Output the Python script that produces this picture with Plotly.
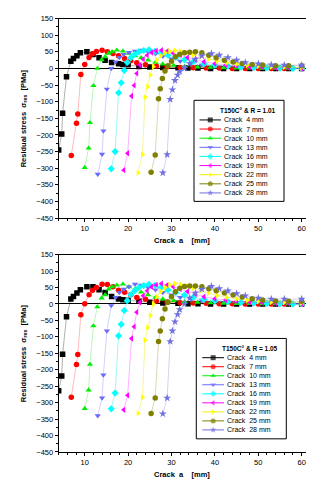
import plotly.graph_objects as go

CRACKS = [4, 7, 10, 13, 16, 19, 22, 25, 28]
LABELS = ["Crack  4 mm", "Crack  7 mm", "Crack  10 mm", "Crack  13 mm", "Crack  16 mm",
          "Crack  19 mm", "Crack  22 mm", "Crack  25 mm", "Crack  28 mm"]
COLORS = ["#000000", "#ff0000", "#00ee00", "#6a6aff", "#00ffff", "#ff00ff", "#ffff00", "#808000", "#7070e0"]
LINECOLORS = ["rgba(0,0,0,0.35)", "rgba(255,0,0,0.3)", "rgba(0,220,0,0.3)", "rgba(106,106,255,0.35)",
              "rgba(0,230,230,0.4)", "rgba(255,0,255,0.35)", "rgba(230,230,0,0.45)", "rgba(128,128,0,0.35)",
              "rgba(112,112,224,0.35)"]
SYMBOLS = ["square", "circle", "triangle-up", "triangle-down", "diamond", "triangle-left",
           "triangle-right", "circle", "star"]
TITLES = ["T150C° & R = 1.01", "T150C° & R = 1.05"]

# x positions (mm) of the points of each crack curve (same mesh in both charts)
X4 = [4.0, 4.7, 4.9, 5.8, 6.8, 7.4, 8.2, 9.0, 10.5, 11.9, 13.3, 14.7, 16.2, 17.8, 18.8, 20.0, 22.5, 25.0,
      28.0, 31.5, 33.8, 36.1, 39.0, 42.0, 45.0, 48.0, 51.0, 54.0, 57.0, 60.0]
X7 = [6.9, 8.1, 8.4, 9.1, 10.0, 11.0, 11.8, 12.7, 14.0, 15.2, 16.5, 17.8, 19.2, 20.6, 22.0, 24.0, 26.5,
      29.0, 32.0, 35.0, 38.0, 41.0, 44.0, 47.0, 50.0, 53.0, 56.0, 60.0]
X10 = [10.0, 10.9, 11.2, 12.0, 12.9, 13.9, 14.7, 15.5, 16.3, 17.4, 18.8, 20.2, 21.6, 23.0, 24.6, 26.3,
       28.0, 30.5, 33.0, 36.0, 39.0, 42.0, 45.0, 48.0, 51.0, 54.0, 57.0, 60.0]
X13 = [13.0, 14.0, 14.3, 15.1, 16.1, 17.1, 18.0, 19.0, 20.2, 21.6, 23.0, 24.6, 26.3, 28.0, 30.0, 32.0,
       34.5, 37.0, 40.0, 43.0, 46.0, 49.0, 52.0, 55.0, 58.0, 60.0]
X16 = [16.1, 17.0, 17.8, 18.4, 19.1, 19.8, 20.6, 21.5, 22.5, 23.6, 24.8, 26.2, 27.6, 29.2, 31.0, 33.0,
       35.0, 37.5, 40.0, 43.0, 46.0, 49.0, 52.0, 55.0, 58.0, 60.0]
X19 = [19.0, 19.9, 20.8, 21.4, 22.0, 22.7, 23.5, 24.4, 25.4, 26.5, 27.7, 29.0, 30.4, 32.0, 33.7, 35.5,
       37.5, 40.0, 42.5, 45.0, 48.0, 51.0, 54.0, 57.0, 60.0]
X22 = [22.3, 23.3, 23.9, 24.5, 25.1, 25.8, 26.6, 27.5, 28.5, 29.6, 30.8, 32.1, 33.5, 35.0, 36.7, 38.5,
       40.5, 42.7, 45.0, 47.5, 50.0, 53.0, 56.0, 60.0]
X25 = [25.3, 26.25, 27.0, 27.4, 27.9, 28.5, 29.2, 30.0, 30.9, 31.9, 33.0, 34.2, 35.5, 37.0, 38.6, 40.3,
       42.2, 44.2, 46.3, 48.6, 51.0, 54.0, 57.0, 60.0]
X28 = [28.0, 29.0, 29.7, 30.2, 30.8, 31.4, 31.9, 33.0, 34.2, 35.5, 37.0, 39.2, 41.0, 43.0, 45.0, 47.0,
       50.0, 53.0, 56.0, 60.0]

# Top chart: R = 1.01 (MPa)
T4 = [-245, -197, -135, -25, 22, 30, 38, 47, 50, 42, 32, 25, 18, 14, 12, 11, 6, 4, 3, 2, 1, 1, 0, 0, 0, 0, 0, 0, 0, 0]
T7 = [-262, -165, -137, -18, 12, 33, 44, 51, 55, 50, 45, 38, 30, 23, 17, 11, 7, 5, 3, 2, 1, 1, 0, 0, 0, 0, 0, 0]
T10 = [-298, -240, -163, -52, 0, 26, 35, 45, 50, 55, 52, 45, 38, 32, 25, 18, 13, 9, 6, 4, 3, 2, 1, 1, 0, 0, 0, 0]
T13 = [-318, -258, -188, -62, 0, 20, 33, 42, 48, 52, 55, 50, 44, 37, 29, 22, 15, 10, 7, 5, 3, 2, 1, 1, 0, 0]
T16 = [-302, -250, -73, -43, -6, 18, 32, 42, 50, 54, 56, 52, 46, 40, 33, 26, 20, 14, 10, 7, 4, 3, 2, 1, 0, 0]
T19 = [-306, -255, -83, -51, -15, 10, 28, 40, 48, 53, 55, 52, 46, 40, 33, 26, 20, 14, 10, 7, 5, 3, 2, 1, 0]
T22 = [-314, -259, -87, -55, -20, 5, 25, 38, 47, 52, 54, 52, 47, 41, 35, 28, 22, 17, 13, 10, 7, 5, 4, 3]
T25 = [-312, -260, -91, -61, -30, -8, 8, 22, 35, 43, 47, 49, 50, 47, 40, 32, 25, 19, 15, 12, 10, 8, 8, 8]
T28 = [-314, -259, -93, -64, -36, -20, -9, 1, 15, 28, 38, 45, 40, 33, 25, 18, 14, 11, 10, 10]

# Bottom chart: R = 1.05 (MPa)
B4 = [-264, -219, -153, -39, 15, 23, 33, 43, 52, 52, 43, 35, 23, 15, 13, 11, 8, 5, 3, 2, 1, 1, 0, 0, 0, 0, 0, 0, 0, 0]
B7 = [-284, -184, -154, -33, 1, 28, 42, 50, 60, 59, 52, 42, 36, 28, 20, 14, 9, 6, 4, 3, 2, 1, 1, 0, 0, 0, 0, 0]
B10 = [-318, -262, -184, -67, -9, 18, 28, 45, 52, 57, 60, 52, 45, 36, 28, 20, 15, 10, 7, 5, 3, 2, 1, 1, 0, 0, 0, 0]
B13 = [-340, -286, -216, -82, -5, 20, 35, 45, 52, 60, 57, 50, 43, 35, 28, 20, 14, 10, 7, 5, 3, 2, 1, 0, 0, 0]
B16 = [-319, -271, -97, -62, -20, 10, 28, 40, 50, 56, 60, 57, 50, 43, 35, 27, 20, 14, 10, 7, 5, 3, 2, 1, 0, 0]
B19 = [-322, -278, -105, -69, -25, 5, 25, 40, 52, 58, 62, 58, 52, 45, 38, 30, 22, 16, 12, 8, 6, 4, 3, 2, 1]
B22 = [-333, -284, -110, -72, -35, 0, 22, 38, 50, 58, 62, 60, 55, 48, 40, 33, 26, 20, 15, 11, 8, 6, 5, 4]
B25 = [-333, -286, -114, -82, -45, -15, 5, 22, 37, 48, 53, 55, 55, 52, 46, 40, 33, 27, 21, 16, 12, 9, 8, 8]
B28 = [-334, -286, -114, -82, -54, -32, -17, 0, 18, 33, 45, 54, 47, 40, 32, 25, 18, 15, 15, 15]

XS = [X4, X7, X10, X13, X16, X19, X22, X25, X28]
YS_TOP = [T4, T7, T10, T13, T16, T19, T22, T25, T28]
YS_BOT = [B4, B7, B10, B13, B16, B19, B22, B25, B28]

W, H = 314, 480
FONT = "Liberation Sans, Arial, sans-serif"

fig = go.Figure()

for ys_set, xa, ya in [(YS_TOP, "x", "y"), (YS_BOT, "x2", "y2")]:
    for i in range(len(CRACKS)):
        fig.add_trace(go.Scatter(
            x=XS[i], y=ys_set[i], mode="lines+markers", xaxis=xa, yaxis=ya,
            line=dict(color=LINECOLORS[i], width=0.9),
            marker=dict(symbol=SYMBOLS[i], color=COLORS[i], size=5.5 if SYMBOLS[i] != "star" else 6,
                        line=dict(width=0)),
            showlegend=False, hoverinfo="skip"))

# plot areas in pixels
plots = [dict(l=50.7, r=298.0, t=6.7, b=210.0), dict(l=50.7, r=298.0, t=247.3, b=448.3)]

def px_dom_x(l, r):
    return [l / W, r / W]

def px_dom_y(t, b):
    return [1 - b / H, 1 - t / H]

axis_common = dict(showline=True, linecolor="black", linewidth=1, mirror=True, showgrid=False,
                   ticks="outside", ticklen=3, tickwidth=1, tickcolor="black",
                   tickfont=dict(family=FONT, size=7.5, color="black"))

layout = dict(width=W, height=H, margin=dict(l=0, r=0, t=0, b=0),
              paper_bgcolor="white", plot_bgcolor="rgba(0,0,0,0)", showlegend=False,
              font=dict(family=FONT, color="black"))

for k, p in enumerate(plots):
    xs = "xaxis" if k == 0 else "xaxis2"
    ys = "yaxis" if k == 0 else "yaxis2"
    anchor_x = "y" if k == 0 else "y2"
    anchor_y = "x" if k == 0 else "x2"
    layout[xs] = dict(domain=px_dom_x(p["l"], p["r"]), range=[4, 61], anchor=anchor_x,
                      tickvals=[10, 20, 30, 40, 50, 60], zeroline=False,
                      minor=dict(dtick=2, tick0=0, ticks="outside", ticklen=2, tickcolor="black"),
                      **axis_common)
    layout[ys] = dict(domain=px_dom_y(p["t"], p["b"]), range=[-450, 150], anchor=anchor_y,
                      dtick=50, tick0=0, zeroline=True, zerolinecolor="black", zerolinewidth=1,
                      minor=dict(dtick=25, tick0=0, ticks="outside", ticklen=2, tickcolor="black"),
                      **axis_common)

# overlay axes in pixel coordinates for the legend boxes and titles
layout["xaxis3"] = dict(domain=[0, 1], range=[0, W], visible=False, anchor="y3", fixedrange=True)
layout["yaxis3"] = dict(domain=[0, 1], range=[H, 0], visible=False, anchor="x3", fixedrange=True)

fig.update_layout(**layout)

annotations = []
shapes = []

legends = [dict(l=186, r=276, t=90, b=193, title_y=100.5, row0=110.0, step=9.3, line0=191.5, line1=213.0),
           dict(l=188.3, r=278.3, t=332.7, b=435, title_y=343.3, row0=352.3, step=9.2, line0=194.3, line1=216.0)]

for k, lg in enumerate(legends):
    shapes.append(dict(type="rect", xref="x3", yref="y3", x0=lg["l"], x1=lg["r"], y0=lg["t"], y1=lg["b"],
                       line=dict(color="black", width=1), fillcolor="rgba(0,0,0,0)", layer="above"))
    annotations.append(dict(xref="x3", yref="y3", x=lg["r"] - 6, y=lg["title_y"], text="<b>" + TITLES[k] + "</b>",
                            showarrow=False, xanchor="right", yanchor="middle",
                            font=dict(family=FONT, size=6.5, color="black")))
    for i in range(len(CRACKS)):
        yy = lg["row0"] + i * lg["step"]
        xm = (lg["line0"] + lg["line1"]) / 2
        fig.add_trace(go.Scatter(
            x=[lg["line0"], xm, lg["line1"]], y=[yy, yy, yy], xaxis="x3", yaxis="y3",
            mode="lines+markers", line=dict(color=COLORS[i] if i != 6 else "#f0f000", width=1),
            marker=dict(symbol=SYMBOLS[i], color=COLORS[i], size=[0, 5, 0], line=dict(width=0)),
            showlegend=False, hoverinfo="skip"))
        annotations.append(dict(xref="x3", yref="y3", x=lg["line1"] + 1, y=yy, text=LABELS[i],
                                showarrow=False, xanchor="left", yanchor="middle",
                                font=dict(family=FONT, size=7, color="black")))

# axis titles
for p in plots:
    cx = (p["l"] + p["r"]) / 2
    cy = (p["t"] + p["b"]) / 2
    annotations.append(dict(xref="x3", yref="y3", x=cx, y=p["b"] + 23, text="<b>Crack  a    [mm]</b>",
                            showarrow=False, xanchor="center", yanchor="middle",
                            font=dict(family=FONT, size=7.5, color="black")))
    annotations.append(dict(xref="x3", yref="y3", x=16, y=cy,
                            text="<b>Residual stress  σ<sub>res</sub>  [PMa]</b>", textangle=-90,
                            showarrow=False, xanchor="center", yanchor="middle",
                            font=dict(family=FONT, size=7.5, color="black")))

fig.update_layout(annotations=annotations, shapes=shapes)
fig.write_html("out.html")
